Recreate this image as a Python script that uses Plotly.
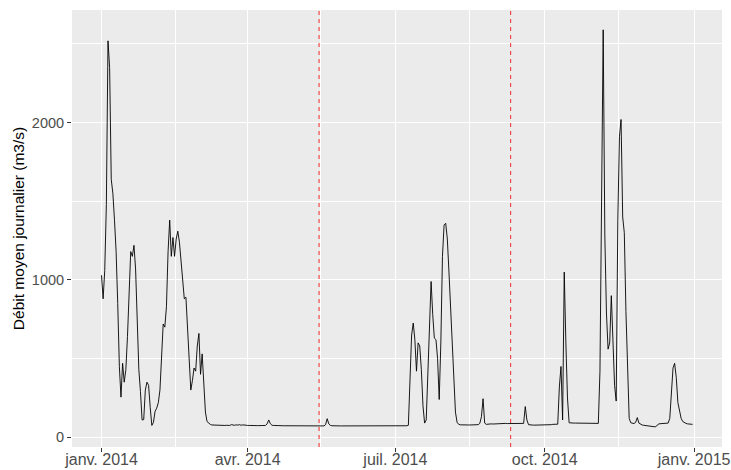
import pandas as pd
import plotly.graph_objects as go

# Daily mean discharge (m3/s), 2014, one list per month
jan = [1030, 880, 1060, 1480, 2520, 2350, 1640, 1550, 1380, 1180, 850, 450, 255, 470, 350, 430,
       640, 890, 1180, 1150, 1220, 1070, 720, 430, 290, 110, 112, 300, 350, 330, 190]
feb = [75, 95, 165, 185, 220, 300, 500, 720, 700, 830, 1180, 1380, 1150, 1270, 1150, 1260,
       1310, 1240, 1120, 1010, 880, 890, 660, 450, 300, 360, 440, 420]
mar = [580, 660, 400, 530, 350, 160, 100, 88, 82, 78, 77, 77, 76, 76, 77, 76, 76, 75, 76, 75,
       75, 80, 78, 76, 79, 77, 80, 76, 79, 76, 75]
apr = [75, 75, 74, 74, 74, 75, 74, 74, 74, 74, 74, 75, 85, 110, 86, 76, 75, 74, 74, 74,
       74, 73, 73, 73, 73, 73, 73, 73, 73, 73]
may = [73, 73, 73, 73, 73, 72, 72, 72, 72, 72, 72, 72, 72, 72, 72, 72, 72, 72, 80, 118,
       85, 75, 73, 72, 72, 72, 72, 72, 72, 72, 72]
jun = [72, 72, 72, 71, 72, 72, 72, 72, 72, 72, 72, 72, 71, 72, 72, 72, 72, 72, 72, 72,
       72, 72, 72, 72, 71, 72, 72, 72, 72, 72]
jul = [72, 72, 72, 72, 72, 72, 72, 73, 76, 350, 650, 726, 620, 420, 600, 580, 430, 200, 90, 110,
       450, 800, 990, 780, 630, 620, 500, 240, 600, 1150, 1350]
aug = [1360, 1260, 1050, 830, 560, 290, 160, 95, 82, 79, 78, 78, 78, 77, 78, 78, 78, 77, 78, 79,
       80, 88, 130, 245, 90, 82, 84, 85, 85, 84, 85]
sep = [86, 86, 87, 87, 88, 88, 88, 87, 87, 86, 85, 85, 85, 85, 85, 85, 86, 88, 195, 110,
       80, 78, 78, 77, 77, 77, 77, 77, 77, 77]
oct_ = [77, 77, 77, 78, 80, 82, 82, 82, 83, 320, 450, 110, 1050, 600, 250, 92, 90, 90, 90, 90,
        90, 90, 90, 90, 90, 90, 90, 90, 90, 90, 89]
nov = [89, 88, 88, 420, 1700, 2590, 1280, 790, 560, 600, 900, 650, 330, 230, 1380, 1910, 2020,
       1400, 1300, 800, 380, 120, 92, 87, 87, 95, 125, 90, 82, 78]
dec = [76, 75, 74, 73, 72, 70, 68, 66, 72, 84, 86, 86, 86, 86, 87, 90, 120, 260, 440, 470,
       380, 220, 155, 120, 100, 92, 88, 85, 84, 83, 82]

flow = jan + feb + mar + apr + may + jun + jul + aug + sep + oct_ + nov + dec
dates = pd.date_range("2014-01-01", periods=len(flow), freq="D")

# Vertical reference dates
vlines = ["2014-05-15", "2014-09-10"]

# Axis ticks
x_tickvals = ["2014-01-01", "2014-04-01", "2014-07-01", "2014-10-01", "2015-01-01"]
x_ticktext = ["janv. 2014", "avr. 2014", "juil. 2014", "oct. 2014", "janv. 2015"]
x_minor = ["2014-02-15 12:00", "2014-05-16", "2014-08-15 12:00", "2014-11-15 12:00"]
y_tickvals = [0, 1000, 2000]
y_minor = [500, 1500, 2500]
y_title = "Débit moyen journalier (m3/s)"

fig = go.Figure()
fig.add_trace(go.Scatter(x=dates, y=flow, mode="lines",
                         line=dict(color="black", width=0.9), showlegend=False))

for d in vlines:
    fig.add_shape(type="line", x0=d, x1=d, y0=0, y1=1, xref="x", yref="paper",
                  line=dict(color="#F02828", width=1, dash="4px,4px"))

font_family = "Liberation Sans, Arial, sans-serif"
fig.update_layout(
    width=731, height=470,
    margin=dict(l=72, r=9, t=10, b=23),
    paper_bgcolor="white", plot_bgcolor="#EBEBEB",
    font=dict(family=font_family),
)
fig.update_xaxes(
    type="date", automargin=False,
    range=["2013-12-13 20:00", "2015-01-18 04:00"],
    tickvals=x_tickvals, ticktext=x_ticktext,
    tickfont=dict(size=16, color="#4D4D4D"),
    ticks="outside", ticklen=4, tickwidth=1, tickcolor="#333333",
    ticklabelstandoff=-6,
    showgrid=True, gridcolor="white", gridwidth=1.1,
    minor=dict(tickvals=x_minor, showgrid=True, gridcolor="white", gridwidth=0.5, ticks=""),
    zeroline=False, showline=False, ticklabeloverflow="allow",
)
fig.update_yaxes(
    automargin=False,
    range=[-62, 2716],
    tickvals=y_tickvals, ticktext=[str(v) for v in y_tickvals],
    tickfont=dict(size=14.5, color="#4D4D4D"),
    ticks="outside", ticklen=4, tickwidth=1, tickcolor="#333333",
    showgrid=True, gridcolor="white", gridwidth=1.1,
    minor=dict(tickvals=y_minor, showgrid=True, gridcolor="white", gridwidth=0.5, ticks=""),
    zeroline=False, showline=False,
    title=dict(text=y_title, font=dict(size=15.5, color="black"), standoff=3),
)

fig.write_html(
    "out.html",
    config={"displayModeBar": False},
    post_script="document.body.style.margin='0';document.body.style.overflow='hidden';",
)
